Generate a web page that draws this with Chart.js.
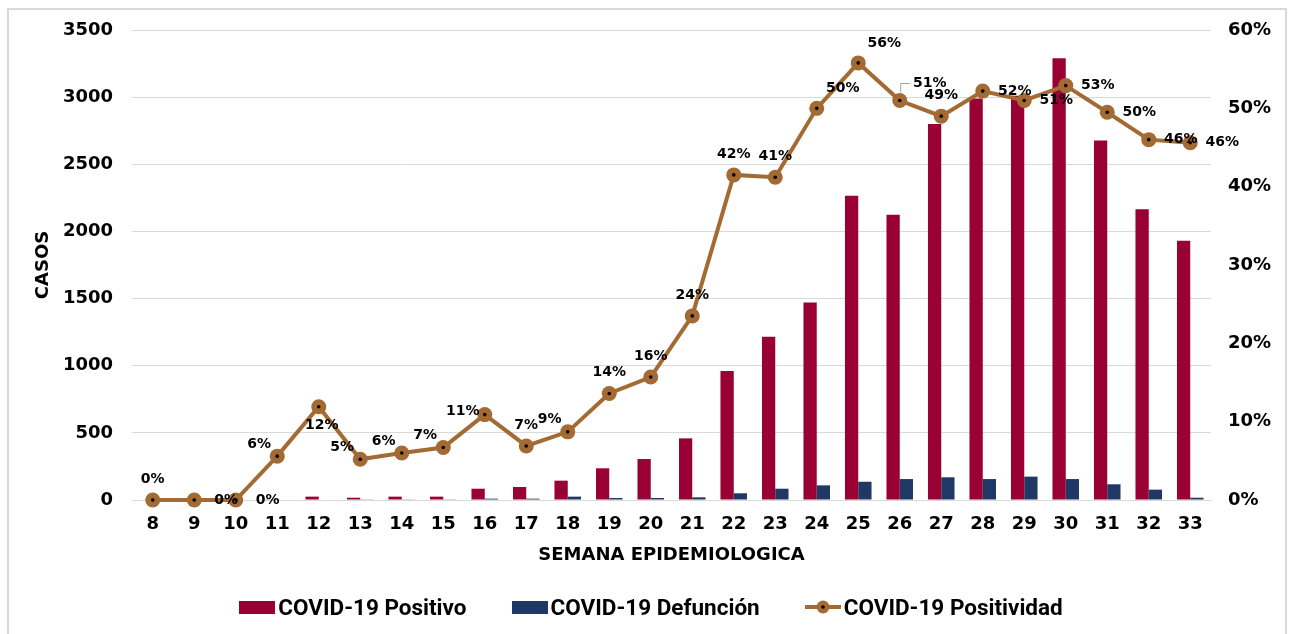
<!DOCTYPE html>
<html>
<head>
<meta charset="utf-8">
<script src="https://cdn.jsdelivr.net/npm/chart.js@4/dist/chart.umd.min.js"></script>
<style>
  html, body { margin: 0; padding: 0; background: #fff; overflow: hidden; }
  #marco { position: absolute; left: 7px; top: 8px; width: 1280px; height: 640px; border: 2px solid #d9d9d9; box-sizing: border-box; }
  #lienzo { position: absolute; left: 0; top: 0; }
  #leyenda { position: absolute; left: 4px; width: 1294px; top: 594px; height: 26px; display: flex; justify-content: center; align-items: center;
    font-family: Roboto, sans-serif; font-weight: bold; font-size: 22.5px; color: #000; }
  .item { display: flex; align-items: center; margin: 0 0 0 45px; }
  .item:first-child { margin-left: 0; }
  .caja { width: 36px; height: 13px; margin-right: 3px; }
  .sim { margin-right: 3px; }
</style>
</head>
<body>
<div id="marco"></div>
<canvas id="lienzo" width="1294" height="634"></canvas>
<div id="leyenda"></div>
<script>
const semanas = ['8','9','10','11','12','13','14','15','16','17','18','19','20','21','22','23','24','25','26','27','28','29','30','31','32','33'];
const positivos = [0, 0, 0, 5, 25, 17, 25, 25, 84, 97, 144, 236, 305, 459, 960, 1215, 1470, 2265, 2125, 2800, 2990, 3010, 3289, 2677, 2165, 1930];
const defunciones = [0, 0, 0, 0, 0, 5, 5, 5, 10, 10, 25, 15, 15, 20, 50, 84, 109, 136, 156, 169, 156, 174, 156, 117, 77, 17];
const positividad = [0, 0, 0, 5.6, 11.9, 5.2, 6.0, 6.7, 10.9, 6.9, 8.7, 13.6, 15.7, 23.5, 41.5, 41.2, 50.0, 55.8, 51.0, 49.0, 52.2, 51.0, 52.9, 49.5, 46.0, 45.6];
const ticksCasos = [0, 500, 1000, 1500, 2000, 2500, 3000, 3500];
const ticksPct = [0, 10, 20, 30, 40, 50, 60];

// donde va cada etiqueta respecto al punto
const etiquetaPos = ['top','right','right','topleft','bottom','topleft','topleft','topleft','left','top','topleft','top','top','top','top','top','topright','topright','callout','top','right','right','right','right','right','right'];

const rojo = '#990033';
const azul = '#1f3864';
const cafe = '#a36b33';
const fuente = 'DejaVu Sans';

function simboloLinea() {
  const c = document.createElement('canvas');
  c.width = 36; c.height = 14;
  c.className = 'sim';
  const g = c.getContext('2d');
  g.strokeStyle = cafe; g.lineWidth = 4;
  g.beginPath(); g.moveTo(0, 7); g.lineTo(36, 7); g.stroke();
  g.fillStyle = cafe;
  g.beginPath(); g.arc(18, 7, 6.5, 0, Math.PI * 2); g.fill();
  g.fillStyle = '#000';
  g.beginPath(); g.arc(18, 7, 1.8, 0, Math.PI * 2); g.fill();
  return c;
}

const desplaza = {
  top: [0, -21], right: [32, 0], left: [-22, -3], topleft: [-18, -12],
  topright: [26, -20], bottom: [3, 19], callout: [30, -17]
};

const etiquetasPlugin = {
  id: 'etiquetas',
  afterDatasetsDraw(chart) {
    const meta = chart.getDatasetMeta(2);
    const ctx = chart.ctx;
    ctx.save();
    meta.data.forEach((pt) => {
      // puntito negro al centro
      ctx.fillStyle = '#000';
      ctx.beginPath(); ctx.arc(pt.x, pt.y, 1.8, 0, Math.PI * 2); ctx.fill();
    });
    ctx.font = 'bold 14px "' + fuente + '"';
    ctx.textAlign = 'center';
    ctx.textBaseline = 'middle';
    meta.data.forEach((pt, i) => {
      const pos = etiquetaPos[i];
      const d = desplaza[pos];
      const x = pt.x + d[0], y = pt.y + d[1];
      if (pos === 'callout') {
        ctx.strokeStyle = '#a6a6a6'; ctx.lineWidth = 1;
        ctx.beginPath();
        ctx.moveTo(pt.x + 1, pt.y - 8);
        ctx.lineTo(pt.x + 1, y);
        ctx.lineTo(x - 20, y);
        ctx.stroke();
      }
      ctx.fillStyle = '#000';
      ctx.fillText(Math.round(positividad[i]) + '%', x, y);
    });
    ctx.restore();
  }
};

const grafica = new Chart(document.getElementById('lienzo'), {
  type: 'bar',
  data: {
    labels: semanas,
    datasets: [
      { label: 'COVID-19 Positivo', data: positivos, backgroundColor: rojo, yAxisID: 'y', order: 1,
        categoryPercentage: 0.64, barPercentage: 1 },
      { label: 'COVID-19 Defunción', data: defunciones, backgroundColor: azul, yAxisID: 'y', order: 1,
        categoryPercentage: 0.64, barPercentage: 1 },
      { label: 'COVID-19 Positividad', type: 'line', data: positividad, yAxisID: 'y1', order: 0,
        borderColor: cafe, borderWidth: 4, pointRadius: 7.5, pointHoverRadius: 7.5, clip: false,
        pointBackgroundColor: cafe, pointBorderWidth: 0, tension: 0 }
    ]
  },
  options: {
    responsive: false,
    animation: false,
    events: [],
    layout: { padding: { top: 30, bottom: 68, left: 0, right: 0 } },
    scales: {
      x: {
        grid: { display: false },
        border: { color: '#d9d9d9', width: 1 },
        ticks: { color: '#000', font: { family: fuente, size: 18, weight: 'bold' }, padding: 6, maxRotation: 0 },
        title: { display: true, text: 'SEMANA EPIDEMIOLOGICA', color: '#000',
          font: { family: fuente, size: 18, weight: 'bold' }, padding: { top: 2, bottom: 0 } },
        afterFit(s) { s.height = 66; }
      },
      y: {
        position: 'left',
        min: 0, max: 3500,
        afterBuildTicks(s) { s.ticks = ticksCasos.map(v => ({ value: v })); },
        grid: { color: '#d9d9d9', drawTicks: false },
        border: { display: false },
        ticks: { color: '#000', font: { family: fuente, size: 18, weight: 'bold' }, padding: 19,
          callback: v => String(v) },
        title: { display: true, text: 'CASOS', color: '#000',
          font: { family: fuente, size: 18, weight: 'bold' }, padding: { top: 33, bottom: 0 } },
        afterFit(s) { s.width = 132; }
      },
      y1: {
        position: 'right',
        min: 0, max: 60,
        afterBuildTicks(s) { s.ticks = ticksPct.map(v => ({ value: v })); },
        grid: { display: false, drawTicks: false },
        border: { display: false },
        ticks: { color: '#000', font: { family: fuente, size: 18, weight: 'bold' }, padding: 17,
          callback: v => v + '%' },
        afterFit(s) { s.width = 83; }
      }
    },
    plugins: {
      tooltip: { enabled: false },
      legend: { display: false }
    }
  },
  plugins: [etiquetasPlugin]
});

// leyenda en HTML
const leyenda = document.getElementById('leyenda');
grafica.data.datasets.forEach((ds) => {
  const item = document.createElement('div');
  item.className = 'item';
  if (ds.type === 'line') {
    item.appendChild(simboloLinea());
  } else {
    const caja = document.createElement('span');
    caja.className = 'caja';
    caja.style.background = ds.backgroundColor;
    item.appendChild(caja);
  }
  const txt = document.createElement('span');
  txt.textContent = ds.label;
  item.appendChild(txt);
  leyenda.appendChild(item);
});
</script>
</body>
</html>
